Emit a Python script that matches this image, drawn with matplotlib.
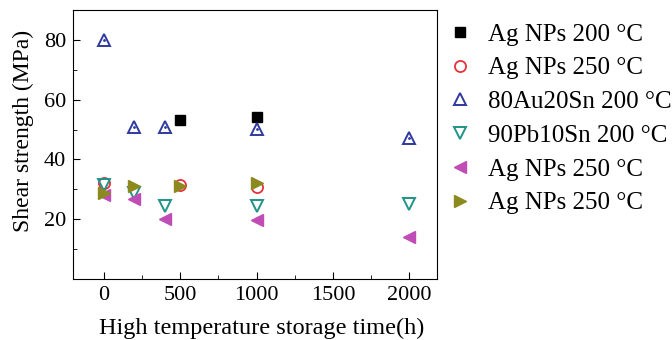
import numpy as np
import matplotlib.pyplot as plt
from matplotlib.ticker import MultipleLocator, FixedLocator

plt.rcParams['font.family'] = ['Liberation Serif', 'DejaVu Serif']

labels = ['Ag NPs 200 °C', 'Ag NPs 250 °C', '80Au20Sn 200 °C',
          '90Pb10Sn 200 °C', 'Ag NPs 250 °C', 'Ag NPs 250 °C']

x_ag200 = [500, 1000]
y_ag200 = [53.2, 54.1]
x_ag250 = [0, 500, 1000]
y_ag250 = [32.0, 31.5, 30.8]
x_ausn = [0, 200, 400, 1000, 2000]
y_ausn = [80.0, 50.8, 50.8, 50.2, 47.1]
x_pbsn = [0, 200, 400, 1000, 2000]
y_pbsn = [31.3, 28.7, 24.4, 24.4, 25.0]
x_left = [0, 200, 400, 1000, 2000]
y_left = [28.0, 26.9, 20.2, 19.9, 13.9]
x_right = [0, 200, 500, 1000]
y_right = [28.8, 31.1, 31.1, 32.1]

fig = plt.figure(figsize=(6.72, 3.4), dpi=100)
ax = fig.add_axes([73/672, 1-279/340, (437-73)/672, (279-10)/340])

ms = 7.5
ax.plot(x_ag200, y_ag200, 's', color='black', ms=ms, label=labels[0])
ax.plot(x_ag250, y_ag250, 'o', mfc='none', mec='#e8303a', mew=1.3, ms=ms+0.5, label=labels[1])
ax.plot(x_ausn, y_ausn, '^', mfc='none', mec='#2f3a9e', mew=1.4, ms=ms+1.5, label=labels[2])
ax.plot(x_ausn, y_ausn, '.', color='#2f3a9e', ms=2)
ax.plot(x_pbsn, y_pbsn, 'v', mfc='none', mec='#1f9488', mew=1.4, ms=ms+1.5, label=labels[3])
ax.plot(x_left, y_left, '<', color='#c04db6', mfc='#c04db6', mec='#c04db6', ms=ms+1.5, label=labels[4])
ax.plot(x_right, y_right, '>', color='#8c8a1e', mfc='#8c8a1e', mec='#8c8a1e', ms=ms+1.5, label=labels[5])

ax.set_xlim(-200, 2180)
ax.set_ylim(0, 90)
ax.xaxis.set_major_locator(MultipleLocator(500))
ax.xaxis.set_minor_locator(MultipleLocator(250))
ax.yaxis.set_major_locator(FixedLocator([20, 40, 60, 80]))
ax.yaxis.set_minor_locator(FixedLocator([10, 30, 50, 70]))
ax.tick_params(which='both', direction='in', labelsize=16, pad=5)
ax.tick_params(which='major', length=5)
ax.tick_params(which='minor', length=3)
ax.set_xlabel('High temperature storage time(h)', fontsize=17.5)
ax.set_ylabel('Shear strength (MPa)', fontsize=17)
ax.xaxis.set_label_coords(0.517, -0.145)
ax.yaxis.set_label_coords(-0.108, 0.55)

ax.legend(loc='upper left', bbox_to_anchor=(1.0, 0.998), frameon=False, fontsize=18,
          handletextpad=0.75, labelspacing=0.45, handlelength=0.8, borderaxespad=0.1)

fig.savefig('out.png', dpi=100)
